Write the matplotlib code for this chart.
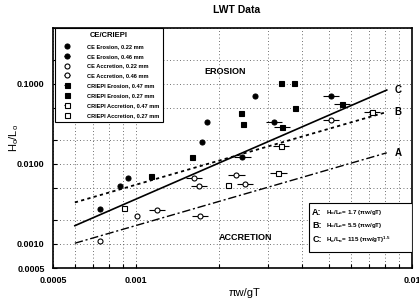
import matplotlib
matplotlib.use("Agg")
import matplotlib.pyplot as plt
from matplotlib.ticker import FixedLocator, LogLocator, NullFormatter
from matplotlib.patches import Rectangle
import numpy as np

plt.rcParams["font.family"] = ["Liberation Sans", "DejaVu Sans"]
plt.rcParams["mathtext.default"] = "regular"

# --- data (x = pi*w/gT, y = Ho/Lo) ---
ce_ero_022_x = [0.000739, 0.000873, 0.000933, 0.00173, 0.00180, 0.00269]
ce_ero_022_y = [0.00274, 0.00531, 0.00668, 0.0188, 0.0335, 0.0708]

ce_ero_046_x = [0.00243, 0.00317, 0.00510]
ce_ero_046_y = [0.0122, 0.0335, 0.0708]

ce_acc_022_x = [0.000739, 0.00101]
ce_acc_022_y = [0.00109, 0.00224]

ce_acc_046_x = [0.00119, 0.00170, 0.00162, 0.00169, 0.00231, 0.00249, 0.00510]
ce_acc_046_y = [0.00266, 0.00224, 0.00668, 0.00531, 0.00729, 0.00562, 0.0355]

cr_ero_047_x = [0.00339, 0.00559]
cr_ero_047_y = [0.0290, 0.0562]

cr_ero_027_x = [0.00113, 0.00159, 0.00241, 0.00245, 0.00336, 0.00374, 0.00378]
cr_ero_027_y = [0.00708, 0.0122, 0.0434, 0.0316, 0.103, 0.103, 0.0501]

cr_acc_047_x = [0.00328, 0.00336, 0.00717]
cr_acc_047_y = [0.00772, 0.0168, 0.0447]

cr_acc_027_x = [0.000903, 0.00216]
cr_acc_027_y = [0.00282, 0.00546]

# criteria lines Ho/Lo = coef * (pi w/gT)^power
line_names = ["A", "B", "C"]
line_coef = [1.7, 5.5, 115.0]
line_pow = [1.0, 1.0, 1.5]
line_x_range = [0.0006, 0.0081]

xticks = [0.0005, 0.001, 0.01]
xtick_labels = ["0.0005", "0.001", "0.01"]
yticks = [0.0005, 0.001, 0.01, 0.1]
ytick_labels = ["0.0005", "0.0010", "0.0100", "0.1000"]

fig = plt.figure(figsize=(4.19, 3.02), dpi=100)
ax = fig.add_axes([53 / 419, 34 / 302, 359 / 419, 240 / 302])
ax.set_xscale("log")
ax.set_yscale("log")
ax.set_xlim(0.0005, 0.01)
ax.set_ylim(0.0005, 0.5)

ms = 3.6


def plain_pts(x, y, marker, face, label):
    return ax.plot(x, y, marker, ls="none", ms=ms, mfc=face, mec="black",
                   mew=0.8, label=label, zorder=4)[0]


def bar_pts(x, y, marker, face, label):
    x = np.asarray(x)
    f = 1.07
    return ax.errorbar(x, y, xerr=[x - x / f, x * f - x], fmt=marker, ms=ms,
                       mfc=face, mec="black", mew=0.8, ecolor="black",
                       elinewidth=0.8, capsize=0, label=label, zorder=4)


handles = [
    plain_pts(ce_ero_022_x, ce_ero_022_y, "o", "black", "CE Erosion, 0.22 mm"),
    bar_pts(ce_ero_046_x, ce_ero_046_y, "o", "black", "CE Erosion, 0.46 mm"),
    plain_pts(ce_acc_022_x, ce_acc_022_y, "o", "white", "CE Accretion, 0.22 mm"),
    bar_pts(ce_acc_046_x, ce_acc_046_y, "o", "white", "CE Accretion, 0.46 mm"),
    bar_pts(cr_ero_047_x, cr_ero_047_y, "s", "black", "CRIEPI Erosion, 0.47 mm"),
    plain_pts(cr_ero_027_x, cr_ero_027_y, "s", "black", "CRIEPI Erosion, 0.27 mm"),
    bar_pts(cr_acc_047_x, cr_acc_047_y, "s", "white", "CRIEPI Accretion, 0.47 mm"),
    plain_pts(cr_acc_027_x, cr_acc_027_y, "s", "white", "CRIEPI Accretion, 0.27 mm"),
]

# criteria lines
styles = [dict(ls=(0, (6, 2, 1.5, 2)), lw=1.0),
          dict(ls=(0, (1.8, 1.8)), lw=1.3),
          dict(ls="-", lw=1.2)]
xl = np.geomspace(line_x_range[0], line_x_range[1], 50)
for name, c, p, st in zip(line_names, line_coef, line_pow, styles):
    ax.plot(xl, c * xl ** p, color="black", zorder=3, **st)
    ax.text(line_x_range[1] * 1.07, c * line_x_range[1] ** p, name,
            fontsize=7, fontweight="bold", va="center", ha="left")

# grid: all minor decades in x, 1-2-5 in y
ax.xaxis.set_major_locator(FixedLocator(xticks))
ax.set_xticklabels(xtick_labels)
ax.xaxis.set_minor_locator(LogLocator(base=10, subs=np.arange(2, 10)))
ax.xaxis.set_minor_formatter(NullFormatter())
ax.yaxis.set_major_locator(FixedLocator(yticks))
ax.set_yticklabels(ytick_labels)
ax.yaxis.set_minor_locator(LogLocator(base=10, subs=(2.0, 5.0)))
ax.yaxis.set_minor_formatter(NullFormatter())
ax.grid(which="both", ls=(0, (1, 3)), lw=0.6, color="0.25")
ax.tick_params(which="both", direction="in", length=3, width=0.8,
               labelsize=6.5, pad=6)
for lab in ax.get_xticklabels() + ax.get_yticklabels():
    lab.set_fontweight("bold")
for sp in ax.spines.values():
    sp.set_linewidth(1.2)

ax.text(0.479, 0.817, "EROSION", transform=ax.transAxes, fontsize=6.5,
        ha="center", va="center", fontweight="bold")
ax.text(0.535, 0.129, "ACCRETION", transform=ax.transAxes, fontsize=6.5,
        ha="center", va="center", fontweight="bold")

leg = ax.legend(handles=handles, loc="upper left", bbox_to_anchor=(0.005, 1.0),
                borderaxespad=0, fontsize=4.1, title="CE/CRIEPI",
                title_fontproperties={"weight": "bold", "size": 5.5},
                frameon=True, fancybox=False, edgecolor="black",
                framealpha=1, handlelength=3.0, labelspacing=0.85,
                borderpad=0.7, handletextpad=2.0)
leg.get_frame().set_linewidth(0.8)
for t in leg.get_texts():
    t.set_fontweight("bold")

# equation box
ax.add_patch(Rectangle((0.713, 0.067), 0.287, 0.204, transform=ax.transAxes,
                       fill=True, facecolor="white", edgecolor="black",
                       lw=0.8, zorder=5))
eqs = ["$H_o/L_o$= 1.7 (\u03c0w/gT)",
       "$H_o/L_o$= 5.5 (\u03c0w/gT)",
       "$H_o/L_o$= 115 (\u03c0w/gT)$^{1.5}$"]
for i, (name, eq) in enumerate(zip(line_names, eqs)):
    yy = 0.233 - i * 0.058
    ax.text(0.722, yy, name + ":", transform=ax.transAxes, fontsize=6.5,
            fontweight="bold", va="center", zorder=6)
    ax.text(0.76, yy, eq, transform=ax.transAxes, fontsize=4.5,
            fontweight="bold", va="center", zorder=6)

fig.text(237 / 419, 1 - 10 / 302, "LWT Data", fontsize=7.5,
         fontweight="bold", ha="center", va="center")
fig.text(244 / 419, 1 - 293 / 302, "\u03c0w/gT", fontsize=8,
         ha="center", va="center")
fig.text(14 / 419, 1 - 138 / 302, "$H_o/L_o$", fontsize=8, rotation=90,
         ha="center", va="center")

fig.savefig("out.png", dpi=100)
